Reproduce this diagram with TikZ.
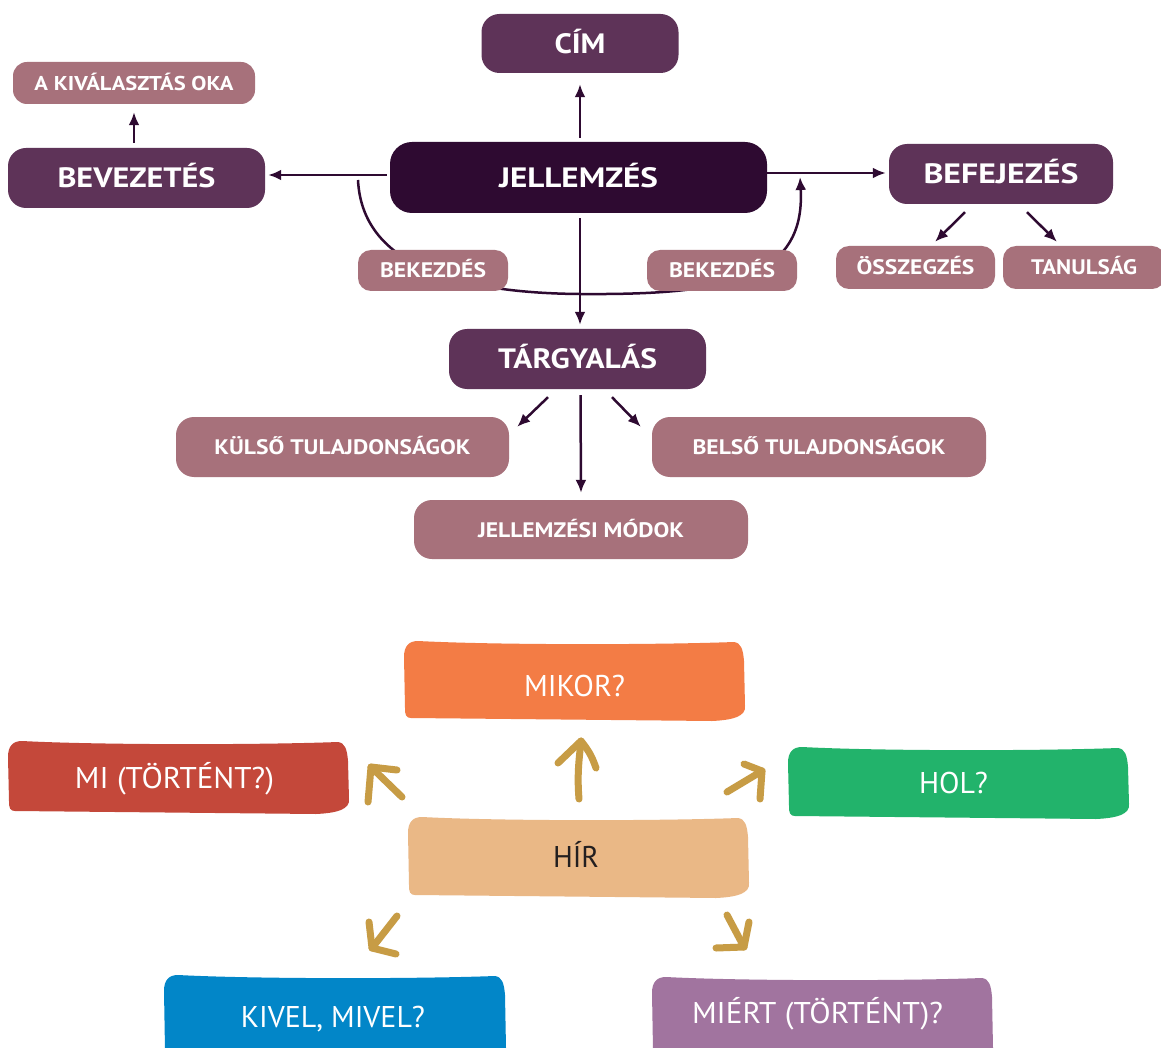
\documentclass[tikz,border=0pt]{standalone}
\usepackage{fontspec}
\setmainfont{PT Sans}
\usepackage{graphicx}
\usetikzlibrary{arrows.meta,calc}
\definecolor{dk}{HTML}{2E0A31}
\definecolor{md}{HTML}{5E3358}
\definecolor{lt}{HTML}{A7717B}
\definecolor{gold}{HTML}{C79C45}
\definecolor{orng}{HTML}{F37C45}
\definecolor{redb}{HTML}{C4483A}
\definecolor{grn}{HTML}{22B36B}
\definecolor{peach}{HTML}{EAB886}
\definecolor{blu}{HTML}{0286C8}
\definecolor{prp}{HTML}{A1749F}
\definecolor{ink}{HTML}{231F20}
\newcommand\tw[2]{\resizebox{#1pt}{\height}{#2}}
\newcommand\brushbox[5]{%
  \fill[#5] ({#1+14},{#2})
    .. controls ({#1+90},{#2+4}) and ({#3-90},{#2+4}) .. ({#3-10},{#2+1})
    .. controls ({#3-3},{#2+2}) and ({#3-1},{#2+8}) .. ({#3},{#2+20})
    -- ({#3+1},{#4-14})
    .. controls ({#3+2},{#4-4}) and ({#3-10},{#4}) .. ({#3-32},{#4+1})
    -- ({#1+7},{#4-2})
    .. controls ({#1+2},{#4-2}) and ({#1+1},{#4-5}) .. ({#1+1},{#4-12})
    -- ({#1},{#2+16})
    .. controls ({#1},{#2+5}) and ({#1+5},{#2}) .. ({#1+14},{#2}) -- cycle;}
\tikzset{
  bigbox/.style={fill=md, rounded corners=18pt, text=white, inner sep=0pt,
    font=\bfseries\fontsize{28}{28}\selectfont, text height=20pt, text depth=0pt},
  smallbox/.style={fill=lt, rounded corners=13pt, text=white, inner sep=0pt,
    font=\bfseries\fontsize{21}{21}\selectfont, text height=15pt, text depth=0pt},
  arr/.style={draw=dk, line width=2.5pt, -{Latex[length=13pt,width=11pt]}},
  lbl/.style={text=white, inner sep=0pt, font=\fontsize{30}{30}\selectfont,
    text height=21pt, text depth=0pt},
  gar/.style={draw=gold, line width=7pt, line cap=round, line join=round},
}
\begin{document}
\begin{tikzpicture}[x=1pt,y=-1pt]
\clip (0,0) rectangle (1161,1048);
\fill[white] (0,0) rectangle (1161,1048);

% big curve behind BEKEZDÉS boxes
\coordinate (cs) at (358,180);
\coordinate (ce) at (800,177);
\draw[arr] (cs) .. controls (362,262) and (450,293) .. (580,294)
  .. controls (720,295) and (806,282) .. (ce);

% top nodes
\node[bigbox, minimum width=197pt, minimum height=59pt] (cim) at (580,43.5) {\tw{51}{CÍM}};
\node[smallbox, minimum width=242pt, minimum height=42pt, rounded corners=14pt,
  font=\bfseries\fontsize{20}{20}\selectfont] (oka) at (134,83) {\tw{199}{A KIVÁLASZTÁS OKA}};
\node[bigbox, minimum width=257pt, minimum height=60pt] (bev) at (136.5,178) {\tw{158}{BEVEZETÉS}};
\node[bigbox, fill=dk, rounded corners=22pt, minimum width=377pt, minimum height=71pt] (jell) at (578.5,177.5) {\tw{159}{JELLEMZÉS}};
\node[bigbox, minimum width=224pt, minimum height=60pt] (bef) at (1001,174) {\tw{155}{BEFEJEZÉS}};
\node[smallbox, minimum width=150pt, minimum height=41pt] (bek1) at (433,270.5) {\tw{106}{BEKEZDÉS}};
\node[smallbox, minimum width=150pt, minimum height=41pt] (bek2) at (722,270.5) {\tw{106}{BEKEZDÉS}};
\node[smallbox, minimum width=159pt, minimum height=43pt] (ossz) at (915.5,267.5) {\tw{118}{ÖSSZEGZÉS}};
\node[smallbox, minimum width=162pt, minimum height=43pt] (tan) at (1084,267.5) {\tw{106}{TANULSÁG}};
\node[bigbox, minimum width=257pt, minimum height=60pt] (targy) at (577.5,359) {\tw{159}{TÁRGYALÁS}};
\node[smallbox, rounded corners=18pt, minimum width=333pt, minimum height=60pt] (kulso) at (342.5,447) {\tw{256}{KÜLSŐ TULAJDONSÁGOK}};
\node[smallbox, rounded corners=18pt, minimum width=334pt, minimum height=60pt] (belso) at (819,447) {\tw{253}{BELSŐ TULAJDONSÁGOK}};
\node[smallbox, rounded corners=18pt, minimum width=334pt, minimum height=59pt] (modok) at (581,529.5) {\tw{206}{JELLEMZÉSI MÓDOK}};

% top connectors
\draw[arr, shorten <=4pt, shorten >=11pt] (cim.south |- jell.north) -- (cim.south);
\draw[arr, shorten <=5pt, shorten >=8pt] (oka.south |- bev.north) -- (oka.south);
\draw[arr, shorten <=3pt, shorten >=3pt] ([yshift=2.5]jell.west) -- ([yshift=2.5]bev.east |- jell.west);
\draw[arr, shorten >=3pt] ([yshift=4.5]jell.east) -- ([yshift=4.5]bef.west |- jell.east);
\draw[arr, shorten <=5pt, shorten >=4pt] ([xshift=1.5]jell.south) -- ([xshift=2.5]targy.north);
\draw[arr] ($(bef.south)+(-36,8)$) -- ($(ossz.north)+(19.5,-4)$);
\draw[arr] ($(bef.south)+(26,8)$) -- ($(tan.north)+(-27,-4)$);
\draw[arr] ($(targy.south)+(-29.5,8)$) -- ($(kulso.north east)+(8,10)$);
\draw[arr] ($(targy.south)+(34.5,8)$) -- ($(belso.north west)+(-11,10)$);
\draw[arr, shorten <=6pt, shorten >=7pt] ([xshift=3]targy.south) -- (modok.north);

% bottom brush boxes
\brushbox{404}{641}{744}{720}{orng}
\brushbox{8}{741}{348}{813}{redb}
\brushbox{788}{747}{1128}{818}{grn}
\brushbox{408}{817}{748}{897}{peach}
\brushbox{164}{975}{505}{1062}{blu}
\brushbox{652}{977}{992}{1062}{prp}

\node[lbl] (mikor) at (574.5,686) {\tw{101}{MIKOR?}};
\node[lbl] (mi) at (174.5,778) {\tw{199}{MI (TÖRTÉNT?)}};
\node[lbl] (hol) at (953.5,783) {\tw{69}{HOL?}};
\node[lbl, text=ink] (hir) at (576,857) {\tw{46}{HÍR}};
\node[lbl] (kivel) at (333,1017) {\tw{184}{KIVEL, MIVEL?}};
\node[lbl] (miert) at (817.5,1013) {\tw{251}{MIÉRT (TÖRTÉNT)?}};

% gold hand-drawn arrows
\coordinate (u0) at (579,799); \coordinate (u1) at (581,741);
\draw[gar] (u0) .. controls (577,775) and (579,760) .. (u1);
\draw[gar] (558,763) -- (u1) to[bend left=10] (596,768);
\coordinate (l0) at (402,797); \coordinate (l1) at (371,767);
\draw[gar] (l0) -- (l1);
\draw[gar] (368,802) -- (l1) -- (397,770);
\coordinate (r0) at (727,792); \coordinate (r1) at (762,771);
\draw[gar] (r0) -- (r1);
\draw[gar] (744,764) -- (r1) -- (760,799);
\coordinate (d0) at (397,916); \coordinate (d1) at (372,948);
\draw[gar] (d0) -- (d1);
\draw[gar] (369,922) -- (d1) -- (396,954);
\coordinate (e0) at (727,915); \coordinate (e1) at (744,947);
\draw[gar] (e0) -- (e1);
\draw[gar] (749,922) -- (e1) -- (716,948);
\end{tikzpicture}
\end{document}
